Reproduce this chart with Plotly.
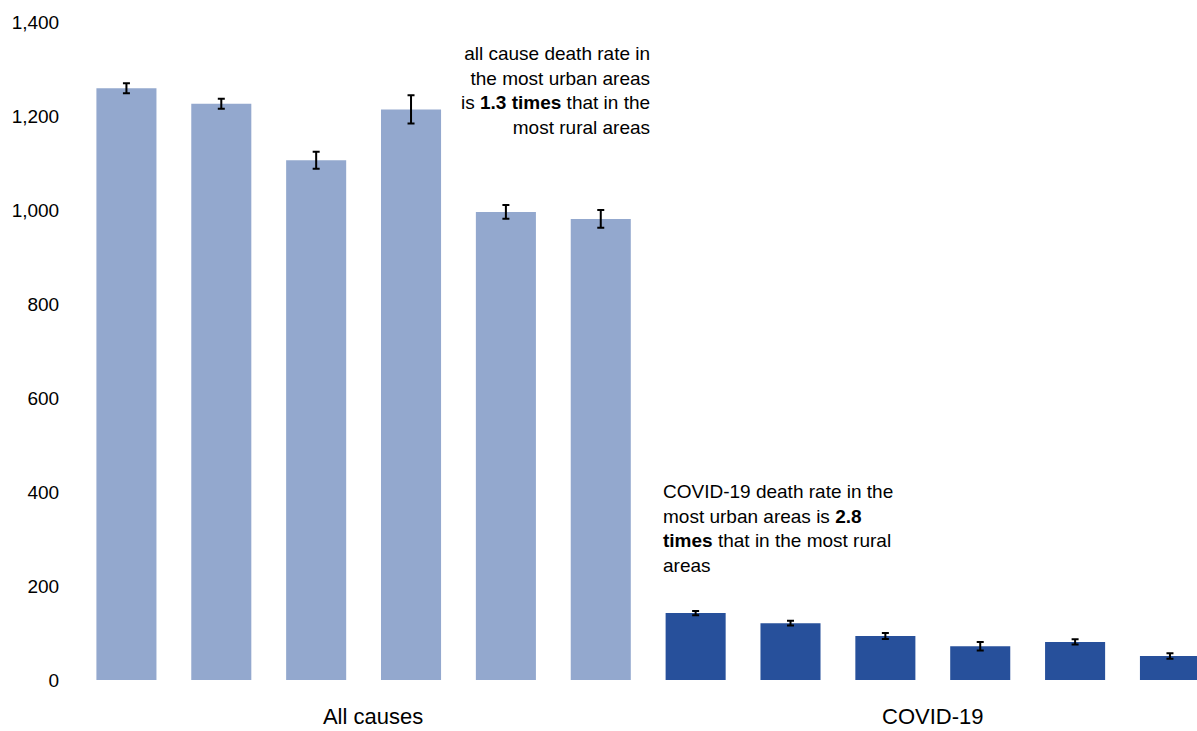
import plotly.graph_objects as go

# ---- data ----
groups = ["All causes", "COVID-19"]
urban_rural_classes = [
    "Major conurbation", "Minor conurbation", "City and town",
    "City and town (sparse)", "Town and fringe", "Village and dispersed",
]
all_causes_rates = [1259, 1226, 1106, 1214, 996, 981]
all_causes_ci = [10.5, 10.5, 18, 30, 14.5, 19]
covid_rates = [142.5, 121, 93.5, 72, 81, 51]
covid_ci = [4.5, 5, 6.5, 9, 5.5, 6]
y_tick_values = [0, 200, 400, 600, 800, 1000, 1200, 1400]

LIGHT = "#93A8CE"
DARK = "#27509B"
FONT = "Liberation Sans, Arial, sans-serif"

n = len(urban_rural_classes)
x_all = list(range(n))
x_covid = list(range(n, 2 * n))
group_label_pos = [(n - 1) / 2 + 0.1, n + (n - 1) / 2]

fig = go.Figure()
fig.add_trace(go.Bar(
    x=x_all, y=all_causes_rates, width=0.633, name=groups[0],
    customdata=urban_rural_classes,
    hovertemplate="%{customdata}: %{y}<extra>All causes</extra>",
    marker=dict(color=LIGHT, line=dict(width=0)),
    error_y=dict(type="data", array=all_causes_ci, visible=True,
                 color="black", thickness=2, width=3.5),
))
fig.add_trace(go.Bar(
    x=x_covid, y=covid_rates, width=0.633, name=groups[1],
    customdata=urban_rural_classes,
    hovertemplate="%{customdata}: %{y}<extra>COVID-19</extra>",
    marker=dict(color=DARK, line=dict(width=0)),
    error_y=dict(type="data", array=covid_ci, visible=True,
                 color="black", thickness=2, width=3.5),
))

fig.add_annotation(
    x=5.545, y=1255, xref="x", yref="y", xanchor="right", yanchor="middle",
    align="right", showarrow=False,
    text="all cause death rate in<br>the most urban areas<br>is <b>1.3 times</b> that in the<br>most rural areas",
    font=dict(family=FONT, size=19, color="black"),
)
fig.add_annotation(
    x=5.64, y=322, xref="x", yref="y", xanchor="left", yanchor="middle",
    align="left", showarrow=False,
    text="COVID-19 death rate in the<br>most urban areas is <b>2.8</b><br><b>times</b> that in the most rural<br>areas",
    font=dict(family=FONT, size=19, color="black"),
)

fig.update_layout(
    width=1197, height=731,
    margin=dict(l=79, r=0, t=22, b=51),
    paper_bgcolor="white", plot_bgcolor="white",
    showlegend=False, barmode="overlay",
    font=dict(family=FONT, color="black"),
    xaxis=dict(
        range=[-0.5, 11.285], showgrid=False, zeroline=False, showline=False,
        automargin=False,
        tickmode="array", tickvals=group_label_pos, ticktext=groups,
        ticks="outside", ticklen=17, tickcolor="rgba(0,0,0,0)",
        tickfont=dict(family=FONT, size=22, color="black"),
    ),
    yaxis=dict(
        range=[0, 1400], showgrid=False, zeroline=False, showline=False,
        automargin=False,
        tickmode="array", tickvals=y_tick_values,
        ticktext=[f"{v:,}" for v in y_tick_values],
        ticks="outside", ticklen=15, tickcolor="rgba(0,0,0,0)",
        tickfont=dict(family=FONT, size=19, color="black"),
    ),
)

fig.write_html(
    "out.html",
    config={"displayModeBar": False},
    post_script="document.body.style.margin='0';document.body.style.overflow='hidden';",
)
